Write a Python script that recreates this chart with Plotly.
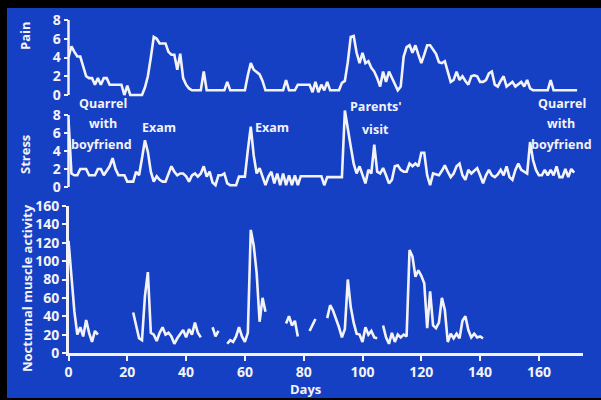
import plotly.graph_objects as go

# ---------------- data ----------------
days_pain = list(range(174))
pain = [4, 5.2, 4.6, 4.1, 4.1, 3, 2, 1.8, 1.8, 1.1,
        1.8, 1.1, 1.8, 1.8, 1.1, 1.1, 1.1, 1.1, 1.1, 0,
        1, 0, 0, 0, 0, 0, 0.8, 2, 4, 6.2,
        6, 5.5, 5.5, 5.5, 4.6, 4.3, 4.3, 2.7, 4.4, 1.8,
        1.1, 0.7, 0.5, 0.5, 0.5, 0.5, 2.5, 0.5, 0.5, 0.5,
        0.5, 0.5, 0.5, 0.5, 1.4, 0.5, 0.5, 0.5, 0.5, 0.5,
        0.5, 2.1, 3.4, 2.7, 2.4, 2.2, 1.5, 0.5, 0.5, 0.5,
        0.5, 0.5, 0.5, 0.5, 1.6, 0.5, 0.5, 0.5, 1.1, 1.1,
        1.1, 1.1, 1.1, 0.3, 1.4, 0.3, 1.1, 0.5, 1.4, 0.5,
        0.5, 0.5, 0.5, 1.3, 1.5, 3.5, 6.2, 6.3, 4.5, 3.4,
        4.5, 3.4, 3.6, 2.9, 2.5, 1.8, 0.9, 2.5, 1.4, 2.5,
        1.8, 1.1, 0.5, 0.9, 4.1, 5.1, 5.3, 4.5, 5.3, 4.3,
        3.4, 4.3, 5.3, 5.3, 4.8, 4.4, 3.5, 3.4, 3.6, 2.5,
        1.4, 1.6, 2.5, 1.6, 2, 1.5, 1.1, 2, 2.1, 2,
        1.4, 1.4, 1.6, 2.3, 2.5, 1.1, 0.9, 1.5, 2, 0.9,
        1.2, 1.4, 0.9, 1.2, 1.4, 0.9, 1.6, 0.7, 0.5, 0.5,
        0.5, 0.5, 0.5, 0.5, 1.6, 0.5, 0.5, 0.5, 0.5, 0.5,
        0.5, 0.5, 0.5, 0.5]

days_stress = list(range(173))
stress = [7.5, 1.5, 1.3, 1.3, 2, 2, 2, 1.3, 1.3, 1.3,
          2, 2, 1.3, 1.8, 2.3, 3.2, 2, 1.3, 1.3, 1.3,
          0.6, 0.6, 0.6, 1.7, 1.3, 3.2, 5.2, 3.9, 1.7, 0.6,
          1.2, 0.8, 0.6, 0.6, 1.5, 2.3, 1.7, 1.3, 1.5, 1.5,
          1.2, 0.6, 1.3, 1.5, 1.15, 1.5, 2.3, 1.15, 1.7, 0.5,
          0.2, 1.3, 1.3, 1.5, 0.4, 0.2, 0.2, 0.2, 1.15, 1.15,
          1.15, 4.1, 6.7, 3.5, 1.5, 2.1, 1.15, 0.2, 1.15, 1.7,
          0.4, 1.5, 0.2, 1.5, 0.2, 1.3, 0.2, 1.3, 0.2, 1.2,
          1.2, 1.2, 1.2, 1.2, 1.2, 1.2, 1.2, 0.2, 1.1, 1.1,
          1.1, 1.1, 1.1, 1.1, 8.5, 6.7, 4.5, 2.6, 1.5, 2.3,
          1.3, 0.4, 1.9, 1.5, 4.7, 1.7, 1.5, 2.1, 1.3, 0.4,
          0.8, 2.3, 2.4, 1.9, 1.7, 1.7, 2.6, 2.3, 2.6, 2.3,
          3.8, 3.8, 1.3, 0.2, 1.5, 1.4, 1.3, 1.8, 2.4, 1.7,
          1.1, 1.5, 2.3, 2.6, 1.3, 0.8, 1.9, 1.5, 1.8, 2.1,
          1.3, 0.4, 1.3, 1.9, 1.3, 1.1, 1.4, 1.9, 1.3, 2.3,
          1.1, 0.8, 1.9, 2.6, 1.9, 1.7, 1.5, 5, 3, 1.9,
          1.3, 1.3, 1.9, 1.3, 1.9, 1.3, 2.3, 1.1, 1.1, 2,
          1.1, 2, 1.6]

days_muscle = list(range(142))
muscle = [122, 85, 45, 20, 28, 18, 36, 22, 12, 24, 20,
          None, None, None, None, None, None, None, None, None, None, None,
          44, 30, 16, 14, 62, 88, 22, 20, 13, 22, 28, 20, 22, 18, 10, 16,
          20, 25, 17, 26, 20, 33, 22, 17,
          None, None, None,
          28, 18, 24,
          None, None,
          10, 14, 12, 18, 28, 18, 12, 22, 134, 117, 87, 34, 60, 45,
          None, None, None, None, None, None,
          32, 40, 30, 35, 18,
          None, None, None,
          24, 30, 37,
          None, None, None,
          38, 52, 46, 38, 28, 17, 26, 80, 50, 33, 21, 20, 12, 28, 20, 24, 17, 16,
          None,
          30, 17, 10, 22, 12, 20, 17, 20, 18, 112, 105, 83, 90, 84, 76, 27, 67,
          30, 27, 33, 60, 47, 12, 21, 16, 21, 16, 35, 40, 25, 17, 21, 17, 18, 16]

pain_ticks = [0, 2, 4, 6, 8]
stress_ticks = [0, 2, 4, 6, 8]
muscle_ticks = [0, 20, 40, 60, 80, 100, 120, 140, 160]
day_ticks = [0, 20, 40, 60, 80, 100, 120, 140, 160]

# ---------------- styling / layout ----------------
W, H = 601, 400
def fx(px):
    return px / W
def fy(py):
    return 1 - py / H

BLUE = "#1640c4"
WHITE = "#f3f3f7"
FONT = "Open Sans"
X0, X1 = 68.5, 583

line_style = dict(color=WHITE, width=2.6)
fig = go.Figure()
fig.add_trace(go.Scatter(x=days_pain, y=pain, xaxis="x2", yaxis="y2",
                         mode="lines", line=line_style, hoverinfo="skip"))
fig.add_trace(go.Scatter(x=days_stress, y=stress, xaxis="x3", yaxis="y3",
                         mode="lines", line=line_style, hoverinfo="skip"))
fig.add_trace(go.Scatter(x=days_muscle, y=muscle, xaxis="x", yaxis="y",
                         mode="lines", line=line_style, connectgaps=False,
                         hoverinfo="skip"))

tickfont = dict(family=FONT, size=14, color=WHITE, weight="bold")
xdom = [fx(X0), fx(X1)]
common_y = dict(ticks="outside", ticklen=4, tickwidth=2, tickcolor=WHITE,
                tickfont=tickfont, showgrid=False, zeroline=False,
                fixedrange=True, automargin=False)

fig.update_layout(
    width=W, height=H, autosize=False,
    margin=dict(l=0, r=0, t=0, b=0, pad=0, autoexpand=False),
    paper_bgcolor="black",
    plot_bgcolor="rgba(0,0,0,0)",
    showlegend=False,
    xaxis=dict(domain=xdom, range=[0, 175], anchor="y",
               showline=True, linecolor=WHITE, linewidth=2.5,
               ticks="outside", ticklen=5, tickwidth=2, tickcolor=WHITE,
               tickvals=day_ticks, tickfont=tickfont, automargin=False,
               showgrid=False, zeroline=False, fixedrange=True),
    yaxis=dict(domain=[fy(353), fy(206)], range=[0, 160], anchor="x",
               showline=True, linecolor=WHITE, linewidth=2.5,
               tickvals=muscle_ticks, **common_y),
    xaxis2=dict(domain=xdom, range=[0, 175], anchor="y2", visible=False,
                automargin=False),
    yaxis2=dict(domain=[fy(98.75), fy(12.5)], range=[-0.4, 8.8], anchor="x2",
                showline=False, tickvals=pain_ticks, **common_y),
    xaxis3=dict(domain=xdom, range=[0, 175], anchor="y3", visible=False,
                automargin=False),
    yaxis3=dict(domain=[fy(190.6), fy(106)], range=[-0.4, 9], anchor="x3",
                showline=False, tickvals=stress_ticks, **common_y),
)

shapes = [
    dict(type="rect", xref="paper", yref="paper", x0=fx(7), x1=1.0,
         y0=fy(398), y1=fy(8), fillcolor=BLUE, line=dict(width=0), layer="below"),
    dict(type="line", xref="paper", yref="y2", x0=fx(X0), x1=fx(X0), y0=0, y1=8,
         line=dict(color=WHITE, width=2.5)),
    dict(type="line", xref="paper", yref="y3", x0=fx(X0), x1=fx(X0), y0=0, y1=8,
         line=dict(color=WHITE, width=2.5)),
]
fig.update_layout(shapes=shapes)

def label(text, px, py, size=12.5, angle=0):
    return dict(text=text, x=fx(px), y=fy(py), xref="paper", yref="paper",
                showarrow=False, textangle=angle, xanchor="center", yanchor="middle",
                font=dict(family=FONT, size=size, color=WHITE, weight="bold"))

annotations = [
    label("Pain", 25, 36, size=13, angle=-90),
    label("Stress", 25, 155, size=13, angle=-90),
    label("Nocturnal muscle activity", 27, 288, size=13, angle=-90),
    label("Days", 305, 389, size=13),
    label("Quarrel", 103, 103), label("with", 103, 123), label("boyfriend", 101, 144),
    label("Exam", 159, 127),
    label("Exam", 272, 127),
    label("Parents'", 376, 106), label("visit", 375, 129),
    label("Quarrel", 562, 103), label("with", 561, 123), label("boyfriend", 561, 144),
]
fig.update_layout(annotations=annotations)

page_fix = ("document.documentElement.style.margin='0';"
            "document.body.style.margin='0';"
            "document.body.style.overflow='hidden';"
            "document.body.style.background='black';")
fig.write_html("out.html", post_script=page_fix,
               config={"displayModeBar": False, "staticPlot": True})
